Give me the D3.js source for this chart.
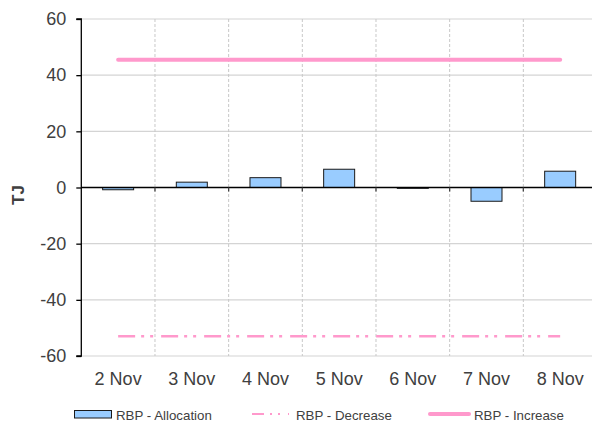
<!DOCTYPE html>
<html><head><meta charset="utf-8">
<script src="https://cdn.jsdelivr.net/npm/d3@7"></script>
<style>body{margin:0;background:#fff}svg{display:block}text{font-family:"Liberation Sans",Arial,sans-serif}</style>
</head><body><svg id="c" width="592" height="425"></svg>
<script>
const categories = ["2 Nov","3 Nov","4 Nov","5 Nov","6 Nov","7 Nov","8 Nov"];
const allocation = [-0.8, 1.9, 3.5, 6.5, -0.3, -4.9, 5.8];
const decrease = [-53, -53, -53, -53, -53, -53, -53];
const increase = [45.5, 45.5, 45.5, 45.5, 45.5, 45.5, 45.5];
const yTicks = [-60, -40, -20, 0, 20, 40, 60];

const svg = d3.select("#c");
const L = 81.3, R = 597, T = 19, B = 356;
const x = d3.scaleBand().domain(categories).range([L, R]).paddingInner(0).paddingOuter(0);
const y = d3.scaleLinear().domain([-60, 60]).range([B, T]);
const txt = "#404040";

// horizontal gridlines
svg.append("g").selectAll("line").data(yTicks.filter(d => d !== 0)).join("line")
  .attr("x1", L).attr("x2", R).attr("y1", d => y(d)).attr("y2", d => y(d))
  .attr("stroke", "#d4d4d4").attr("stroke-width", 1.2);

// vertical dashed gridlines
const bounds = categories.slice(1).map(c => x(c));
svg.append("g").selectAll("line").data(bounds).join("line")
  .attr("x1", d => d).attr("x2", d => d).attr("y1", T).attr("y2", B)
  .attr("stroke", "#c8c8c8").attr("stroke-width", 1).attr("stroke-dasharray", "3,2");

// bars
const bw = 31;
svg.append("g").selectAll("rect").data(allocation).join("rect")
  .attr("x", (d, i) => x(categories[i]) + x.bandwidth() / 2 - bw / 2)
  .attr("width", bw)
  .attr("y", d => y(Math.max(0, d)))
  .attr("height", d => Math.abs(y(d) - y(0)))
  .attr("fill", "#99ccff").attr("stroke", "#1a1a1a").attr("stroke-width", 1);

// zero axis
svg.append("line").attr("x1", L).attr("x2", R).attr("y1", y(0)).attr("y2", y(0))
  .attr("stroke", "#000").attr("stroke-width", 1.3);
svg.append("g").selectAll("line").data(bounds).join("line")
  .attr("x1", d => d).attr("x2", d => d).attr("y1", y(0)).attr("y2", y(0) + 4)
  .attr("stroke", "#444").attr("stroke-width", 1.3);

// lines
const cx = (d, i) => x(categories[i]) + x.bandwidth() / 2;
const line = d3.line().x(cx).y(d => y(d));
svg.append("path").datum(decrease).attr("d", line).attr("fill", "none")
  .attr("stroke", "#ff99cc").attr("stroke-width", 2.5).attr("stroke-dasharray", "17,6,3,6,3,8");
svg.append("path").datum(increase).attr("d", line).attr("fill", "none")
  .attr("stroke", "#ff99cc").attr("stroke-width", 4).attr("stroke-linecap", "round");

// y axis
const yAxis = d3.axisLeft(y).tickValues(yTicks).tickSize(5).tickPadding(10).tickFormat(d => String(d));
const ga = svg.append("g").attr("transform", `translate(${L},0)`).call(yAxis);
ga.select(".domain").attr("stroke", "#000").attr("stroke-width", 1.3).attr("d", `M-5,${T}H0V${B}H-5`);
ga.selectAll(".tick line").attr("stroke", "#000").attr("stroke-width", 1.3);
ga.selectAll(".tick text").attr("font-size", 18).attr("fill", txt).style("font-family", '"Liberation Sans",Arial,sans-serif');

// x labels
svg.append("g").selectAll("text").data(categories).join("text")
  .attr("x", d => x(d) + x.bandwidth() / 2).attr("y", 385)
  .attr("text-anchor", "middle").attr("font-size", 18).attr("fill", txt).text(d => d);

// y title
svg.append("text").attr("transform", `translate(24,195) rotate(-90)`)
  .attr("text-anchor", "middle").attr("font-size", 17).attr("font-weight", "bold").attr("fill", txt).text("TJ");

// legend
const lg = svg.append("g");
lg.append("rect").attr("x", 74.5).attr("y", 410.5).attr("width", 37).attr("height", 7.5)
  .attr("fill", "#99ccff").attr("stroke", "#1a1a1a").attr("stroke-width", 1);
lg.append("text").attr("x", 116).attr("y", 420).attr("font-size", 13.3).attr("fill", txt).text("RBP - Allocation");
lg.append("line").attr("x1", 252).attr("x2", 289).attr("y1", 414).attr("y2", 414)
  .attr("stroke", "#ff99cc").attr("stroke-width", 2).attr("stroke-dasharray", "12,6,2,6,2,8");
lg.append("text").attr("x", 296).attr("y", 420).attr("font-size", 13.3).attr("fill", txt).text("RBP - Decrease");
lg.append("line").attr("x1", 430).attr("x2", 469).attr("y1", 414).attr("y2", 414)
  .attr("stroke", "#ff99cc").attr("stroke-width", 4).attr("stroke-linecap", "round");
lg.append("text").attr("x", 474).attr("y", 420).attr("font-size", 13.3).attr("fill", txt).text("RBP - Increase");
</script></body></html>
